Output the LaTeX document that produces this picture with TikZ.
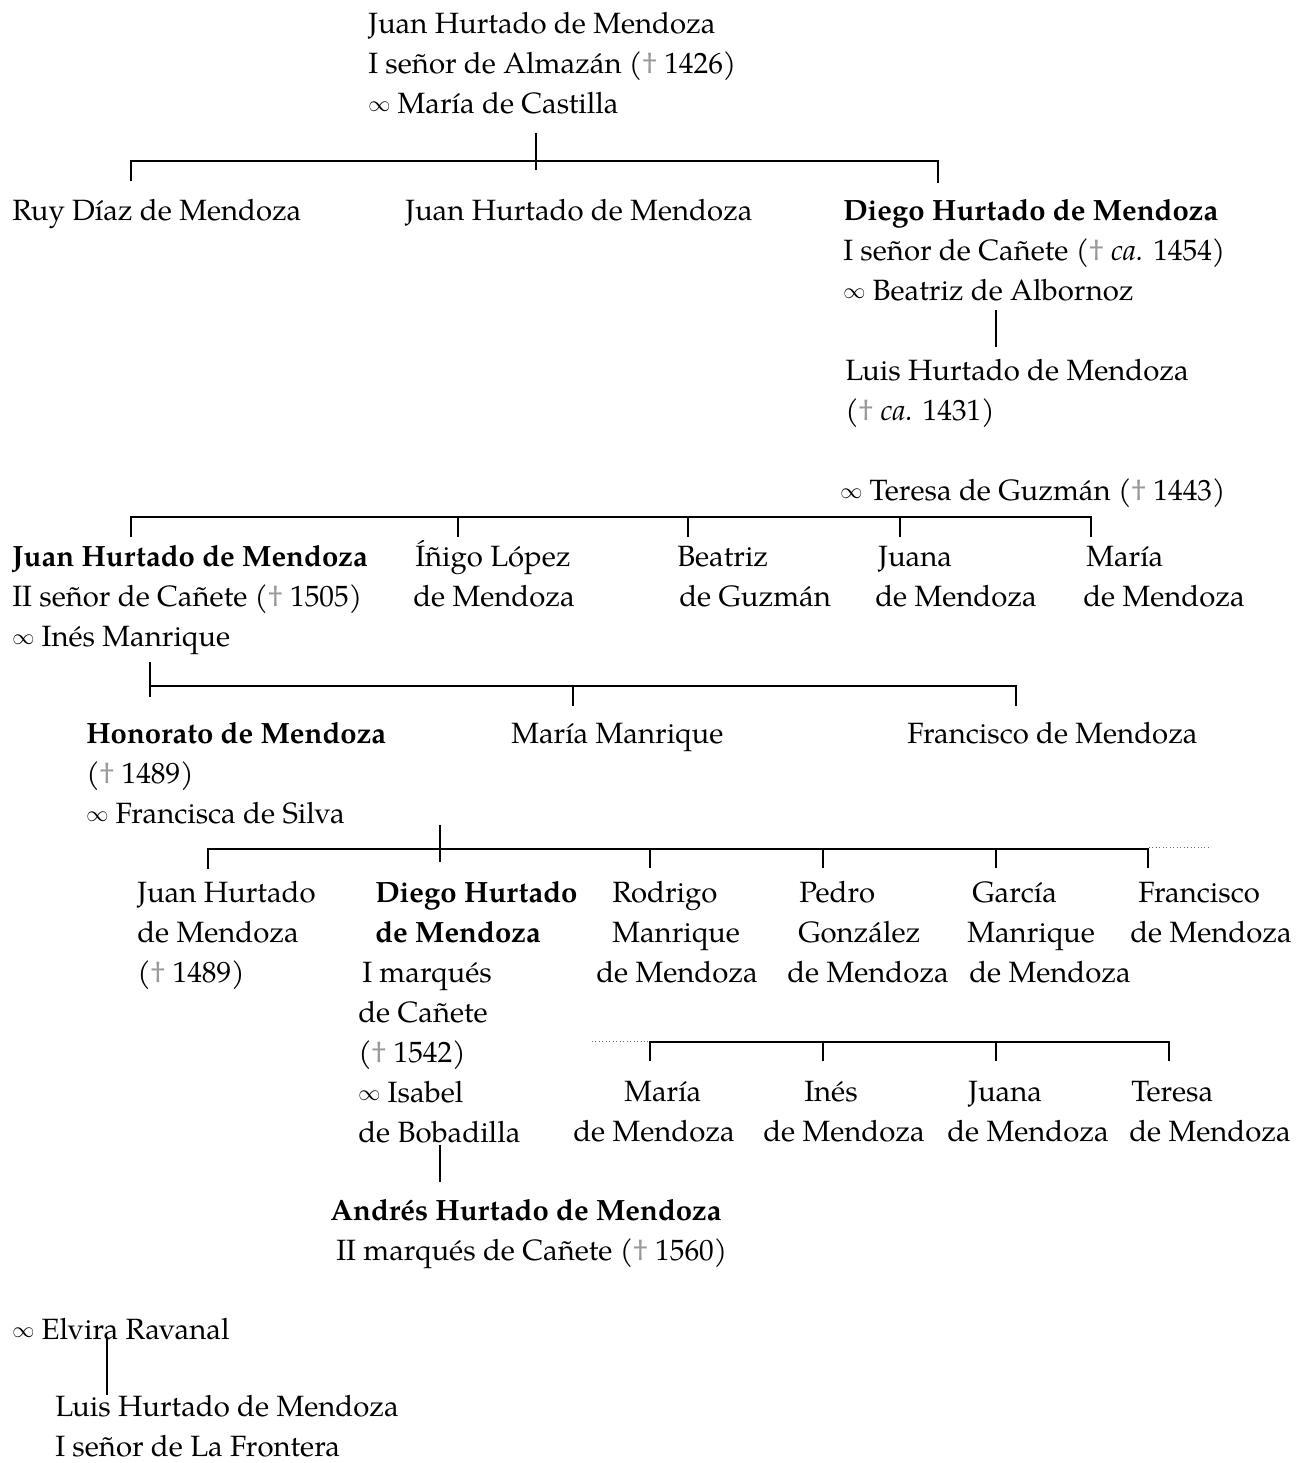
\documentclass[tikz,border=0pt]{standalone}
\usepackage{fontspec}
\setmainfont{TeX Gyre Pagella}
\usepackage{xcolor}
\usepackage{graphicx}
\newcommand{\dg}{\textcolor{black!40}{\dag}}
\newcommand{\mymar}{\raisebox{0.07em}{\scalebox{0.8}{$\infty$}}}
\newcommand{\myind}[1]{\hspace*{\dimexpr 0.75pt*#1\relax}}
\begin{document}
\begin{tikzpicture}[x=0.75pt,y=-0.75pt,
  pn/.style={anchor=north west,inner sep=0pt,align=left,
    font={\fontsize{22pt}{30pt}\selectfont}},
  ln/.style={line width=2.2pt,line join=miter,line cap=butt},
  dl/.style={dotted,line width=0.6pt,black!60}]
\useasboundingbox (0,0) rectangle (1310,1463);
% generation 1
\node[pn] (n0) at (368,5) {\strut Juan Hurtado de Mendoza\\ I señor de Almazán (\dg{} 1426)\\ \mymar{} María de Castilla};
% generation 2
\node[pn] (n1) at (12,192) {\strut Ruy Díaz de Mendoza};
\node[pn] (n2) at (405,192) {\strut Juan Hurtado de Mendoza};
\node[pn] (n3) at (843,192) {\strut\textbf{Diego Hurtado de Mendoza}\\ I señor de Cañete (\dg{} \textit{ca.} 1454)\\ \mymar{} Beatriz de Albornoz};
\node[pn] (n4) at (845,352) {\strut Luis Hurtado de Mendoza\\ (\dg{} \textit{ca.} 1431)};
\node[pn] (n5) at (840,472) {\strut \mymar{} Teresa de Guzmán (\dg{} 1443)};
% generation 4
\node[pn] (n6) at (12,538) {\strut\textbf{Juan Hurtado de Mendoza}\\ II señor de Cañete (\dg{} 1505)\\ \mymar{} Inés Manrique};
\node[pn] (n7) at (413,538) {\strut\myind{2}Íñigo López\\ de Mendoza};
\node[pn] (n8) at (677,538) {\strut Beatriz\\ \myind{2}de Guzmán};
\node[pn] (n9) at (875,538) {\strut\myind{3}Juana\\ de Mendoza};
\node[pn] (n10) at (1083,538) {\strut\myind{3}María\\ de Mendoza};
% generation 5
\node[pn] (n11) at (86,715) {\strut\textbf{Honorato de Mendoza}\\ (\dg{} 1489)\\ \mymar{} Francisca de Silva};
\node[pn] (n12) at (511,715) {\strut María Manrique};
\node[pn] (n13) at (907,715) {\strut Francisco de Mendoza};
% generation 6
\node[pn] (n14) at (137,874) {\strut Juan Hurtado\\ de Mendoza\\ (\dg{} 1489)};
\node[pn] (n15) at (358,874) {\strut\myind{17}\textbf{Diego Hurtado}\\ \myind{17}\textbf{de Mendoza}\\ \myind{4}I marqués\\ de Cañete\\ (\dg{} 1542)\\ \mymar{} Isabel\\ de Bobadilla};
\node[pn] (n16) at (596,874) {\strut\myind{16}Rodrigo\\ \myind{16}Manrique\\ de Mendoza};
\node[pn] (n17) at (787,874) {\strut\myind{12}Pedro\\ \myind{11}González\\ de Mendoza};
\node[pn] (n18) at (967,874) {\strut\myind{5}García\\ Manrique\\ \myind{2}de Mendoza};
\node[pn] (n19) at (1130,874) {\strut\myind{8}Francisco\\ de Mendoza};
% generation 6b
\node[pn] (n20) at (573,1073) {\strut\myind{51}María\\ de Mendoza};
\node[pn] (n21) at (763,1073) {\strut\myind{41}Inés\\ de Mendoza};
\node[pn] (n22) at (947,1073) {\strut\myind{21}Juana\\ de Mendoza};
\node[pn] (n23) at (1129,1073) {\strut\myind{2}Teresa\\ de Mendoza};
% generation 7
\node[pn] (n24) at (330,1192) {\strut\textbf{Andrés Hurtado de Mendoza}\\ \myind{6}II marqués de Cañete (\dg{} 1560)};
% other line
\node[pn] (n25) at (12,1311) {\strut \mymar{} Elvira Ravanal};
\node[pn] (n26) at (55,1388) {\strut Luis Hurtado de Mendoza\\ I señor de La Frontera};
% connector points
\coordinate (a0) at (536,133); \coordinate (a1) at (536,170);
\coordinate (a2) at (131,181); \coordinate (a3) at (131,161);
\coordinate (a4) at (938,161); \coordinate (a5) at (938,183);
\coordinate (b0) at (996,310); \coordinate (b1) at (996,347);
\coordinate (c0) at (131,537); \coordinate (c1) at (131,517);
\coordinate (c2) at (1091,517); \coordinate (c3) at (1091,537);
\coordinate (c4) at (458,517); \coordinate (c5) at (688,517); \coordinate (c6) at (900,517);
\coordinate (d0) at (150,662); \coordinate (d1) at (150,697);
\coordinate (d2) at (150,686); \coordinate (d3) at (1016,686); \coordinate (d4) at (1016,706);
\coordinate (d5) at (573,686);
\coordinate (e0) at (440,825); \coordinate (e1) at (440,862);
\coordinate (e2) at (208,869); \coordinate (e3) at (208,849);
\coordinate (e4) at (1148,849); \coordinate (e5) at (1148,868);
\coordinate (e6) at (650,849); \coordinate (e7) at (823,849); \coordinate (e8) at (996,849);
\coordinate (e9) at (1208,847); \coordinate (e10) at (1149,847);
\coordinate (f0) at (650,1061); \coordinate (f1) at (650,1042);
\coordinate (f2) at (1169,1042); \coordinate (f3) at (1169,1061);
\coordinate (f4) at (823,1042); \coordinate (f5) at (996,1042);
\coordinate (f6) at (592,1041); \coordinate (f7) at (649,1041);
\coordinate (g0) at (440,1145); \coordinate (g1) at (440,1182);
\coordinate (h0) at (107,1338); \coordinate (h1) at (107,1395);
% connectors
\draw[ln] (a0) -- (a1);
\draw[ln] (a2) -- (a3) -- (a4) -- (a5);
\draw[ln] (b0) -- (b1);
\draw[ln] (c0) -- (c1) -- (c2) -- (c3);
\foreach \p in {c4,c5,c6} \draw[ln] (\p) -- ++(0,20);
\draw[ln] (d0) -- (d1);
\draw[ln] (d2) -- (d3) -- (d4);
\draw[ln] (d5) -- ++(0,20);
\draw[ln] (e0) -- (e1);
\draw[ln] (e2) -- (e3) -- (e4) -- (e5);
\foreach \p in {e6,e7,e8} \draw[ln] (\p) -- ++(0,19);
\draw[dl] (e10) -- (e9);
\draw[ln] (f0) -- (f1) -- (f2) -- (f3);
\foreach \p in {f4,f5} \draw[ln] (\p) -- ++(0,19);
\draw[dl] (f6) -- (f7);
\draw[ln] (g0) -- (g1);
\draw[ln] (h0) -- (h1);
\end{tikzpicture}
\end{document}
